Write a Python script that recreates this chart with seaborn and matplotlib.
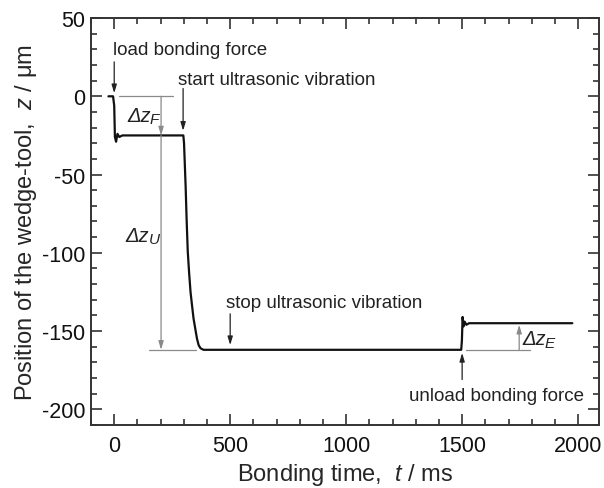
import matplotlib
matplotlib.use("Agg")
import matplotlib.pyplot as plt
import seaborn as sns
import pandas as pd

# wedge-tool position trace
time_ms = [-25, -5, 0, 3, 8, 14, 22, 35, 60, 298, 301, 304, 308, 312, 317, 323,
           329, 335, 342, 350, 357, 364, 372, 385, 400, 700, 1000, 1300, 1496,
           1499, 1502, 1506, 1511, 1518, 1530, 1560, 1975]
z_um = [0, 0, -6, -26, -29, -24, -26, -25, -25, -25, -30, -42, -58, -78, -99, -113,
        -125, -133, -142, -149, -155, -159, -161, -162, -162, -162, -162, -162, -162,
        -156, -141, -147, -144, -146, -145, -145, -145]

xlim = (-95, 2090)
ylim = (-210, 50)
xticks = [0, 500, 1000, 1500, 2000]
yticks = [-200, -150, -100, -50, 0, 50]

# (text, x, y, ha)
labels = [
    ("load bonding force", -4, 30, "left"),
    ("start ultrasonic vibration", 275, 11, "left"),
    ("stop ultrasonic vibration", 481, -132, "left"),
    ("unload bonding force", 1647, -191, "center"),
]
# (x, y_from, y_to)
arrows = [
    (0, 22, 2),
    (297, 5, -22),
    (500, -139, -159),
    (1500, -181, -164),
]
# (subscript, x, y) of the Δz labels
deltas = [("F", 55, -12), ("U", 50, -89), ("E", 1758, -155)]

sns.set_style("ticks")
plt.rcParams["font.family"] = ["Liberation Sans", "DejaVu Sans"]
plt.rcParams["mathtext.fontset"] = "custom"
plt.rcParams["mathtext.rm"] = "Liberation Sans"
plt.rcParams["mathtext.it"] = "Liberation Sans:italic"
plt.rcParams["axes.unicode_minus"] = False

fig = plt.figure(figsize=(6.04, 4.89), dpi=100)
ax = fig.add_axes([0.1507, 0.129, 0.8410, 0.832])

df = pd.DataFrame({"t": time_ms, "z": z_um})
sns.lineplot(data=df, x="t", y="z", ax=ax, color="#111111", linewidth=1.6,
             estimator=None, sort=False)

gray = "#8a8a8a"
arrow_kw = dict(arrowstyle="-|>,head_length=0.5,head_width=0.15", color="#222222",
                lw=0.9, shrinkA=0, shrinkB=0)
dim_kw = dict(arrowstyle="-|>,head_length=0.5,head_width=0.15", color=gray,
              lw=0.9, shrinkA=0, shrinkB=0)

for text, x, y, ha in labels:
    ax.text(x, y, text, ha=ha, va="center", fontsize=13.5, color="#222222")
for x, y0, y1 in arrows:
    ax.annotate("", xy=(x, y1), xytext=(x, y0), arrowprops=arrow_kw)

# dimension lines
ax.plot([22, 254], [0, 0], color=gray, lw=0.9)
ax.plot([150, 353], [-162, -162], color=gray, lw=0.9)
ax.plot([1518, 1793], [-162, -162], color=gray, lw=0.9)
ax.annotate("", xy=(202, -25), xytext=(202, 0), arrowprops=dim_kw)
ax.annotate("", xy=(202, -162), xytext=(202, -25), arrowprops=dim_kw)
ax.annotate("", xy=(1746, -146), xytext=(1746, -162), arrowprops=dim_kw)

for sub, x, y in deltas:
    t = ax.text(x, y, "Δz", ha="left", va="center", fontsize=14.5,
                style="italic", color="#222222")
    ax.annotate(sub, xy=(1, 0.3), xycoords=t, xytext=(-0.5, 0), textcoords="offset points",
                ha="left", va="center", fontsize=11, style="italic", color="#222222")

ax.set_xlim(*xlim)
ax.set_ylim(*ylim)
ax.set_xticks(xticks)
ax.set_yticks(yticks)
ax.set_xticks(range(-100, 2100, 100), minor=True)
ax.set_yticks(range(-210, 51, 10), minor=True)
ax.tick_params(which="both", direction="in", top=True, right=True, color="#333333",
               width=1.2, labelsize=15.5, labelcolor="#111111")
ax.tick_params(which="major", length=8)
ax.tick_params(which="minor", length=4)
ax.tick_params(axis="x", which="major", pad=7)
ax.tick_params(axis="y", which="major", pad=4)
for s in ax.spines.values():
    s.set_linewidth(1.4)
    s.set_color("#333333")

ax.set_xlabel(r"Bonding time,  $t$ / ms", fontsize=17, labelpad=4)
ax.set_ylabel(r"Position of the wedge-tool,  $z$ / μm", fontsize=17, labelpad=2)

fig.savefig("out.png", dpi=100)
